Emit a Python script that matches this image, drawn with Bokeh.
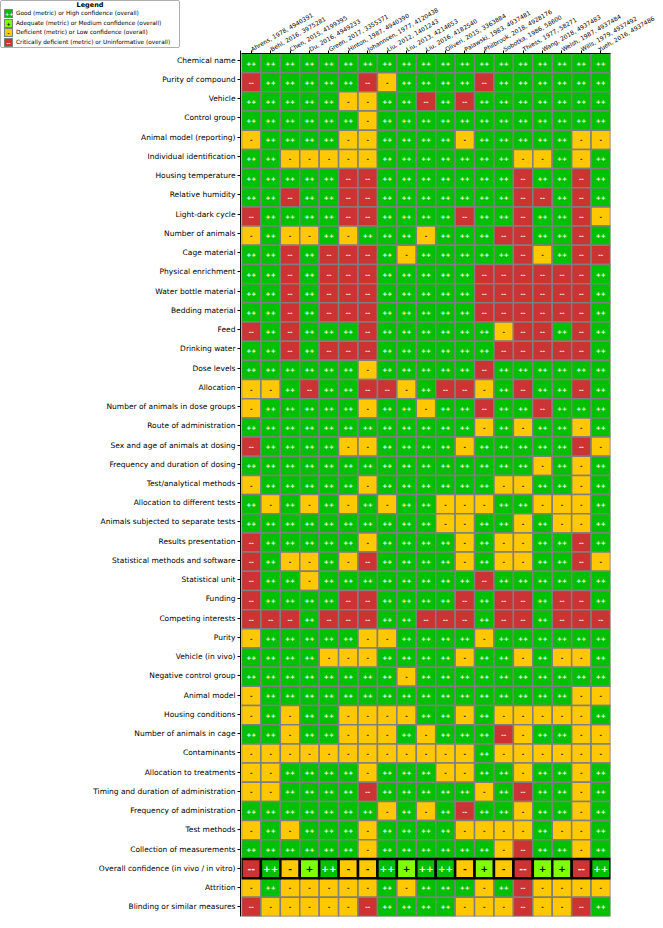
import math
from bokeh.plotting import figure
from bokeh.layouts import row, column
from bokeh.models import ColumnDataSource, FactorRange, Range1d, Div
from bokeh.embed import file_html
from bokeh.resources import INLINE
from bokeh.core.properties import value

studies = ["Ahrens, 1978, 4940391", "Behl, 2016, 3975281", "Chen, 2015, 4199395",
           "Du, 2016, 4949233", "Green, 2017, 3355371", "Hinton, 1987, 4940390",
           "Johannsen, 1977, 4120438", "Liu, 2012, 1401243", "Liu, 2013, 4214653",
           "Liu, 2016, 4182540", "Oliveri, 2015, 3363884", "Palawski, 1983, 4937481",
           "Philbrook, 2018, 4928176", "Sobotka, 1986, 58600", "Thiess, 1977, 58271",
           "Wang, 2018, 4937483", "Welsh, 1987, 4937484", "Wills, 1979, 4937492",
           "Yueh, 2016, 4937486"]

# G = ++ (good / high), A = + (adequate / medium), D = - (deficient / low), C = -- (critically deficient / uninformative)
chemical_name = "GGGGGGGGGGGGGGGGGGG"
purity_of_compound = "CGGGGGCDGGGGCGGGGGG"
vehicle = "GGGGGDDGGCGCGGGGGGG"
control_group = "GGGGGGDGGGGGGGGGGGG"
animal_model_reporting = "DGGGGDDGGGGDGGGGGDD"
individual_identification = "GGDDDDDGGGGGGGDDGDG"
housing_temperature = "GGGGGCCGGGGGGGCGGCG"
relative_humidity = "GGCGGCCGGGGGGGCCGCG"
light_dark_cycle = "CGGGGCCGGGGCGGCGGCD"
number_of_animals = "DGDDGDGGGDGGGCCGGCG"
cage_material = "GGCGCCCGDGGGGGCDGCC"
physical_enrichment = "GGCGCCCGGGGGCCCCCCG"
water_bottle_material = "GGCGCCCGGGGGCCCCCCG"
bedding_material = "GGCGCCCGGGGGCCCCCCG"
feed = "CGCGGGCGGGGGGDCCGCG"
drinking_water = "GGCGCCCGGGGGGCCCCCG"
dose_levels = "GGGGGGDGGGGGCGGGGGG"
allocation = "DDGCGGCCDGCCDGCGGCG"
animals_in_dose_groups = "DGGGGGDGGDGGCGGCGGG"
route_of_administration = "GGGGGGGGGGGGDGDGGDG"
sex_and_age = "CGGGGDDGGGGDGGGGGCD"
frequency_duration_dosing = "GGGGGGGGGGGGGGGDGDG"
test_analytical_methods = "DGGGGGDGGGGGGDDGGDG"
allocation_different_tests = "GDGDGDGDGGDDDGGDDDG"
separate_tests = "GGGGGGGGGGDDGGDGDDG"
results_presentation = "CGGGGGDGGGGDGDDGGCG"
statistical_methods = "CGDDGDCGGGGDGDDGGCD"
statistical_unit = "CGGDGGGGGGGGCGGGGGG"
funding = "CGGGGCCGGGGCGCCGCCG"
competing_interests = "CCCGCCCGGCCCGCCGCCC"
purity = "DGGGGGDDGGGGDGGGGGG"
vehicle_in_vivo = "GGGGDDDGGGGDGGDGDDG"
negative_control_group = "GGGGGGGGDGGGGGGGGGG"
animal_model = "DGGGGGGGGGGGGGGGGDD"
housing_conditions = "DGDGGDDDDGGDGDDDDDG"
animals_in_cage = "GGDGGDDDGDGGGCDGGDD"
contaminants = "DDDDDDDDDDDDGDDDDDD"
allocation_to_treatments = "DDGGGGDGGGDDGGDGGDG"
timing_duration_admin = "DDGGGGCGGGGGDGCGGDG"
frequency_of_administration = "GGGGGGGDGDGCGGDGGDG"
test_methods = "DGDGGGDGGGGDDDDGDDG"
collection_of_measurements = "GGGGGGDGGGGGGDCGGDG"
overall_confidence = "CGDAGDDGAGGDADCAACG"
attrition = "DGDDDDDGDGGGDGCDDDD"
blinding = "CDDDDDCGGGGDDDCDDCG"

metrics = [
    ("Chemical name", chemical_name),
    ("Purity of compound", purity_of_compound),
    ("Vehicle", vehicle),
    ("Control group", control_group),
    ("Animal model (reporting)", animal_model_reporting),
    ("Individual identification", individual_identification),
    ("Housing temperature", housing_temperature),
    ("Relative humidity", relative_humidity),
    ("Light-dark cycle", light_dark_cycle),
    ("Number of animals", number_of_animals),
    ("Cage material", cage_material),
    ("Physical enrichment", physical_enrichment),
    ("Water bottle material", water_bottle_material),
    ("Bedding material", bedding_material),
    ("Feed", feed),
    ("Drinking water", drinking_water),
    ("Dose levels", dose_levels),
    ("Allocation", allocation),
    ("Number of animals in dose groups", animals_in_dose_groups),
    ("Route of administration", route_of_administration),
    ("Sex and age of animals at dosing", sex_and_age),
    ("Frequency and duration of dosing", frequency_duration_dosing),
    ("Test/analytical methods", test_analytical_methods),
    ("Allocation to different tests", allocation_different_tests),
    ("Animals subjected to separate tests", separate_tests),
    ("Results presentation", results_presentation),
    ("Statistical methods and software", statistical_methods),
    ("Statistical unit", statistical_unit),
    ("Funding", funding),
    ("Competing interests", competing_interests),
    ("Purity", purity),
    ("Vehicle (in vivo)", vehicle_in_vivo),
    ("Negative control group", negative_control_group),
    ("Animal model", animal_model),
    ("Housing conditions", housing_conditions),
    ("Number of animals in cage", animals_in_cage),
    ("Contaminants", contaminants),
    ("Allocation to treatments", allocation_to_treatments),
    ("Timing and duration of administration", timing_duration_admin),
    ("Frequency of administration", frequency_of_administration),
    ("Test methods", test_methods),
    ("Collection of measurements", collection_of_measurements),
    ("Overall confidence (in vivo / in vitro)", overall_confidence),
    ("Attrition", attrition),
    ("Blinding or similar measures", blinding),
]
overall_label = "Overall confidence (in vivo / in vitro)"

legend_keys = ["G", "A", "D", "C"]
legend_labels = ["Good (metric) or High confidence (overall)",
                 "Adequate (metric) or Medium confidence (overall)",
                 "Deficient (metric) or Low confidence (overall)",
                 "Critically deficient (metric) or Uninformative (overall)"]
symbols = {"G": "++", "A": "+", "D": "-", "C": "--"}
fill = {"G": "#00C000", "A": "#7FFF00", "D": "#FFC800", "C": "#CC3333"}
ink = {"G": "white", "A": "black", "D": "black", "C": "white"}

FONT = "DejaVu Sans"

def build(rows):
    d = dict(x=[], y=[], color=[], sym=[], ink=[])
    for name, codes in rows:
        for study, c in zip(studies, codes):
            d["x"].append(study)
            d["y"].append(name)
            d["color"].append(fill[c])
            d["sym"].append(symbols[c])
            d["ink"].append(ink[c])
    return ColumnDataSource(d)

normal = build([m for m in metrics if m[0] != overall_label])
overall = build([m for m in metrics if m[0] == overall_label])

W, H = 655, 920     # whole page area
T = 50              # height of the column-label band
LEFT = 241          # width of the row-label band
B = 4

y_range = FactorRange(*[m[0] for m in reversed(metrics)])

# ---------------- main heatmap (column labels above)
p = figure(width=W - LEFT, height=H,
           x_range=FactorRange(*studies), y_range=y_range,
           x_axis_location="above", y_axis_type=None,
           output_backend="svg", toolbar_location=None,
           min_border_left=0, min_border_right=W - LEFT - 369,
           min_border_top=T, min_border_bottom=B)

p.rect(x="x", y="y", width=1, height=1, source=normal,
       fill_color="color", line_color="#7f7f7f", line_width=1.5)
p.text(x="x", y="y", text="sym", source=normal, text_color="ink",
       text_align="center", text_baseline="middle",
       text_font=value(FONT), text_font_size="6px", text_font_style="bold")

p.rect(x="x", y="y", width=1, height=1, source=overall,
       fill_color="color", line_color="black", line_width=2.5)
p.text(x="x", y="y", text="sym", source=overall, text_color="ink",
       text_align="center", text_baseline="middle",
       text_font=value(FONT), text_font_size="9px", text_font_style="bold")

p.xgrid.visible = False
p.ygrid.visible = False
p.outline_line_color = None
xa = p.xaxis[0]
xa.major_label_text_font = FONT
xa.major_label_text_font_size = "6px"
xa.major_label_text_color = "black"
xa.major_label_orientation = math.pi / 6
xa.major_tick_out = 3
xa.major_tick_in = 0
xa.major_label_standoff = 1
xa.axis_line_color = "black"
xa.major_tick_line_color = "black"

# ---------------- row labels (shares the heatmap's y range)
ylab = figure(width=LEFT, height=H - T, x_range=Range1d(0, 1), y_range=y_range,
              x_axis_type=None, output_backend="svg", toolbar_location=None,
              min_border_left=LEFT - 1, min_border_right=0,
              min_border_top=0, min_border_bottom=B)
ylab.xgrid.visible = False
ylab.ygrid.visible = False
ylab.outline_line_color = None
ya = ylab.yaxis[0]
ya.major_label_text_font = FONT
ya.major_label_text_font_size = "7.5px"
ya.major_label_text_color = "black"
ya.major_tick_out = 3
ya.major_tick_in = 0
ya.major_label_standoff = 2
ya.axis_line_color = "black"
ya.major_tick_line_color = "black"

# ---------------- legend (top-left corner)
entries = ""
for key, lab in zip(legend_keys, legend_labels):
    entries += (
        '<div style="display:flex;align-items:center;height:9.5px;white-space:nowrap;">'
        f'<span style="display:inline-block;flex:none;width:9px;height:9px;background:{fill[key]};'
        f'color:{ink[key]};font-size:5px;font-weight:bold;text-align:center;line-height:9px;'
        'margin:0 3px 0 3px;box-sizing:border-box;border:0.5px solid #7f7f7f;">'
        f'{symbols[key]}</span><span style="white-space:nowrap;">{lab}</span></div>'
    )
legend_html = (
    f'<div style="width:180px;height:48px;box-sizing:border-box;border:1px solid #b0b0b0;'
    f'border-radius:2px;background:white;font-family:\'{FONT}\';font-size:5.8px;color:black;'
    'line-height:9px;overflow:hidden;white-space:nowrap;">'
    '<div style="text-align:center;font-weight:bold;font-size:6.5px;line-height:8px;">Legend</div>'
    + entries + '</div>'
)
leg = Div(text=legend_html, width=LEFT, height=T, margin=0)

layout = row(column(leg, ylab, spacing=0), p, spacing=0)

open("out.html", "w").write(file_html(layout, INLINE))
